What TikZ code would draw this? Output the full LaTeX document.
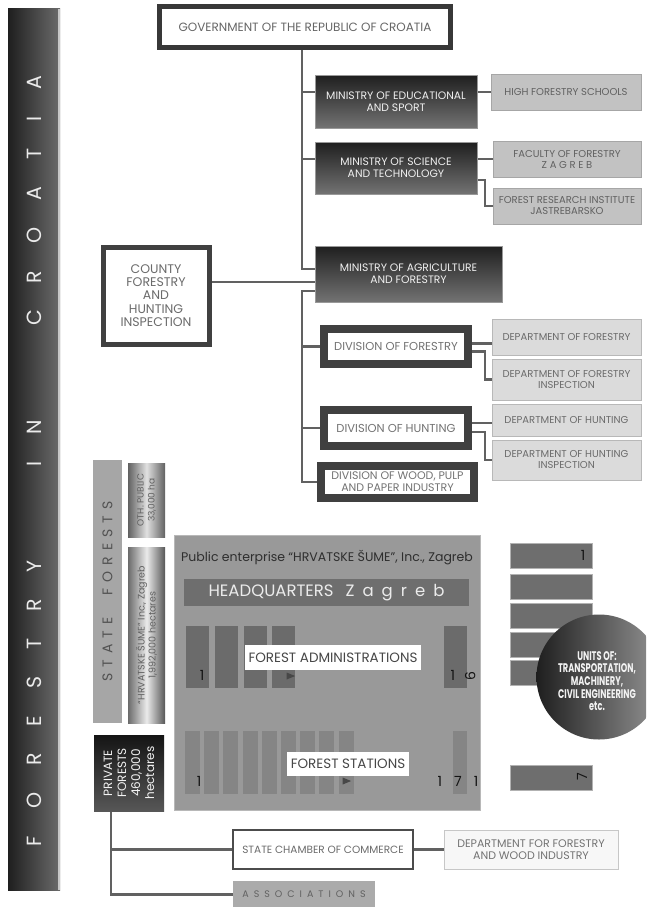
\documentclass[tikz,border=0pt]{standalone}
\usepackage{fontspec}
\usepackage{graphicx}
\setmainfont{Poppins}
\usetikzlibrary{shapes.geometric}
\pgfdeclarelayer{bg}
\pgfsetlayers{bg,main}

\begin{document}
\begin{tikzpicture}[x=1pt, y=-1pt,
  link/.style={draw=black!62, line width=2.2pt},
  banner/.style={left color=black!88, right color=black!58, minimum width=52pt, minimum height=881pt, inner sep=0pt},
  bartext/.style={rotate=90, text=black!8, inner sep=0pt, font={\fontsize{20.5}{20}\selectfont\spaceskip=27pt\relax}},
  govbox/.style={draw=black!78, line width=5pt, fill=white, text=black!60, inner sep=0pt, font=\fontsize{12}{14}\selectfont},
  minbox/.style={draw=black!40, top color=black!88, bottom color=black!55, text=black!6, align=center, inner sep=0pt, font=\fontsize{10.8}{12}\selectfont},
  instbox/.style={draw=black!35, fill=black!24, text=black!62, align=center, inner sep=0pt, font=\fontsize{10}{11}\selectfont},
  countybox/.style={draw=black!75, line width=5pt, fill=white, text=black!58, align=center, inner sep=0pt, font=\fontsize{12.5}{13.3}\selectfont},
  divbox/.style={draw=black!75, line width=8pt, fill=white, text=black!55, align=center, inner sep=0pt, font=\fontsize{11.5}{12.5}\selectfont},
  deptbox/.style={draw=black!28, fill=black!14, text=black!58, align=center, inner sep=0pt, font=\fontsize{10}{11}\selectfont},
  vbox/.style={rotate=90, align=center, inner sep=0pt},
  entbox/.style={draw=black!28, fill=black!40, inner sep=0pt},
  adbar/.style={fill=black!58, minimum width=23pt, minimum height=62pt, inner sep=0pt},
  stbar/.style={fill=black!48, minimum width=15pt, minimum height=63pt, inner sep=0pt},
  unitbar/.style={fill=black!57, draw=black!30, minimum width=82pt, minimum height=25pt, inner sep=0pt},
  tag/.style={fill=white, text=black!72, inner sep=0pt, font=\fontsize{13.5}{15}\selectfont},
  num/.style={text=black!92, inner sep=0pt, font=\fontsize{14}{14}\selectfont},
  tri/.style={isosceles triangle, fill=black!72, minimum size=7pt, inner sep=0pt},
  plainbox/.style={draw=black!70, line width=1.5pt, fill=white, text=black!58, align=center, inner sep=0pt, font=\fontsize{10.5}{12}\selectfont},
  lightbox/.style={draw=black!22, line width=1pt, fill=black!3, text=black!55, align=center, inner sep=0pt, font=\fontsize{11}{12}\selectfont},
  assocbox/.style={fill=black!33, text=black!62, inner sep=0pt, font={\fontsize{9.5}{11}\selectfont\spaceskip=5pt\relax}}
]
\clip (0,0) rectangle (646,907);

% side banner
\node[banner] (bar) at (34,449.5) {};
\draw[black!22, line width=2pt] ([xshift=-1pt]bar.north east) -- ([xshift=-1pt]bar.south east);
\node[bartext] (bartitle) at (34,461) {F O R E S T R Y\hspace{94pt}I N\hspace{94pt}C R O A T I A};

% government and ministries
\node[govbox, minimum width=291pt, minimum height=41pt] (gov) at (305,27) {GOVERNMENT OF THE REPUBLIC OF CROATIA};
\coordinate (trunk) at (302,50);

\node[minbox, minimum width=162pt, minimum height=53pt] (edu) at (396,101.5) {MINISTRY OF EDUCATIONAL\\AND SPORT};
\node[minbox, minimum width=162pt, minimum height=52pt] (sci) at (396,168) {MINISTRY OF SCIENCE\\AND TECHNOLOGY};
\node[minbox, minimum width=187pt, minimum height=56pt] (agri) at (408.5,274) {MINISTRY OF AGRICULTURE\\AND FORESTRY};

\node[instbox, minimum width=150pt, minimum height=36pt] (school) at (566,92) {HIGH FORESTRY SCHOOLS};
\node[instbox, minimum width=148pt, minimum height=36pt] (faculty) at (567,159) {FACULTY OF FORESTRY\\Z A G R E B};
\node[instbox, minimum width=148pt, minimum height=36pt] (institute) at (567,206) {FOREST RESEARCH INSTITUTE\\JASTREBARSKO};

\node[countybox, minimum width=106pt, minimum height=97pt] (county) at (156,295.5) {COUNTY\\FORESTRY\\AND\\HUNTING\\INSPECTION};

% divisions and departments
\node[divbox, minimum width=144pt, minimum height=35pt] (divfor) at (396,346.5) {DIVISION OF FORESTRY};
\node[divbox, minimum width=144pt, minimum height=36pt] (divhunt) at (396,428) {DIVISION OF HUNTING};
\node[divbox, minimum width=153pt, minimum height=32pt, font=\fontsize{11}{12}\selectfont] (divwood) at (397.5,482) {DIVISION OF WOOD, PULP\\AND PAPER INDUSTRY};

\node[deptbox, minimum width=149pt, minimum height=36pt] (depfor) at (566.5,337) {DEPARTMENT OF FORESTRY};
\node[deptbox, minimum width=149pt, minimum height=41pt] (depforins) at (566.5,379.5) {DEPARTMENT OF FORESTRY\\INSPECTION};
\node[deptbox, minimum width=149pt, minimum height=32pt] (dephunt) at (566.5,420) {DEPARTMENT OF HUNTING};
\node[deptbox, minimum width=149pt, minimum height=40pt] (dephuntins) at (566.5,460) {DEPARTMENT OF HUNTING\\INSPECTION};

% state and private forests
\node[vbox, fill=black!35, text=black!68, minimum width=263pt, minimum height=29pt, font={\fontsize{14}{14}\selectfont\spaceskip=6pt\relax}] (state) at (107.5,591.5) {S T A T E\hspace{22pt}F O R E S T S};
\node[vbox, left color=black!62, right color=black!62, middle color=black!12, text=black!62, minimum width=74pt, minimum height=37pt, font=\fontsize{9}{11}\selectfont] (other) at (146.5,500) {OTH. PUBLIC\\33,000 ha};
\node[vbox, left color=black!58, right color=black!66, middle color=black!8, text=black!62, minimum width=176pt, minimum height=37pt, font=\fontsize{9.5}{11}\selectfont] (hsume) at (146.5,635) {“HRVATSKE ŠUME” Inc., Zagreb\\1,992,000 hectares};
\node[vbox, top color=black!92, bottom color=black!66, text=black!5, minimum width=76pt, minimum height=70pt, font=\fontsize{12}{14}\selectfont] (private) at (129,773) {PRIVATE\\FORESTS\\460,000\\hectares};

% public enterprise
\node[entbox, minimum width=306pt, minimum height=275pt] (hsent) at (327,672.5) {};
\node[inner sep=0pt, text=black!82, font=\fontsize{12.5}{14}\selectfont] (enttitle) at (327,558) {Public enterprise “HRVATSKE ŠUME”, Inc., Zagreb};
\node[fill=black!57, text=black!8, minimum width=285pt, minimum height=27pt, inner sep=0pt, font={\fontsize{16.5}{18}\selectfont\spaceskip=8pt\relax}] (hq) at (326.5,592.5) {HEADQUARTERS\hspace{12pt}Z a g r e b};

\foreach \xx [count=\i] in {197,226,255,283.5}
  \node[adbar] (ad\i) at (\xx,657) {};
\node[adbar] (ad16) at (455.5,657) {};
\node[tag, minimum width=176pt, minimum height=25pt] (admin) at (333,657.5) {FOREST ADMINISTRATIONS};
\node[num] (adfirst) at (202,675) {1};
\node[tri] (adtri) at (289,676) {};
\node[num] (adlast) at (463,675) {1\hspace{10pt}\rotatebox{90}{6}};

\foreach \i in {1,...,9}
  \node[stbar] (st\i) at ({192.5+19.2*(\i-1)},762.5) {};
\node[stbar, minimum width=14pt] (st171) at (460,762.5) {};
\node[tag, minimum width=122pt, minimum height=24pt] (station) at (348,764) {FOREST STATIONS};
\node[num] (stfirst) at (199,781) {1};
\node[tri] (sttri) at (345,781) {};
\node[num] (stlast) at (458,781) {1\hspace{12pt}7\hspace{12pt}1};

% service units
\foreach \yy [count=\i] in {555.5,586.5,615.5,644.5,673}
  \node[unitbar] (unit\i) at (551,\yy) {};
\node[unitbar] (unitn) at (551,777.5) {};
\node[num] (unitfirst) at (583,555) {1};
\node[num] (unitlast) at (582,777) {\rotatebox{90}{7}};
\node[circle, left color=black!88, right color=black!42, minimum size=125pt, inner sep=0pt] (units) at (599,677) {};
\node[text=black!5, inner sep=0pt, font=\bfseries\fontsize{12.5}{12.6}\selectfont] (unitstext) at (597,683) {\scalebox{0.66}[1]{\begin{tabular}{@{}c@{}}UNITS OF:\\TRANSPORTATION,\\MACHINERY,\\CIVIL ENGINEERING\\etc.\end{tabular}}};

% chamber and associations
\node[plainbox, minimum width=180pt, minimum height=39pt] (chamber) at (323,849.5) {STATE CHAMBER OF COMMERCE};
\node[lightbox, minimum width=174pt, minimum height=39pt] (deptfw) at (531,849.5) {DEPARTMENT FOR FORESTRY\\AND WOOD INDUSTRY};
\node[assocbox, minimum width=142pt, minimum height=27pt] (assoc) at (304,894.5) {A S S O C I A T I O N S};

% connectors
\coordinate (agin) at ([yshift=-8pt]agri.west);
\coordinate (agout) at ([yshift=-17pt]agri.west);
\coordinate (pf) at ([xshift=-18pt]private.west);
\begin{pgfonlayer}{bg}
\fill[white] (0,0) rectangle (646,907);
\draw[link] (gov.south -| trunk) |- ([yshift=5pt]agri.west);
\draw[link] (trunk |- school.west) -- (edu.west |- school.west);
\draw[link] (edu.east |- school.west) -- (school.west);
\draw[link] (trunk |- faculty.west) -- (sci.west |- faculty.west);
\draw[link] (sci.east |- faculty.west) -- (faculty.west);
\draw[link] ([yshift=-12pt]sci.east) -| ([xshift=-8pt]institute.west) -- (institute.west);
\draw[link] (county.east |- agin) -- (agin);
\draw[link] (agout) -| (trunk |- divwood.west) -- (divwood.west);
\draw[link] (trunk |- divfor.west) -- (divfor.west);
\draw[link] (trunk |- divhunt.west) -- (divhunt.west);
\draw[link] ([yshift=3pt]divfor.east) -- ([yshift=3pt]divfor.east -| depfor.west);
\draw[link] ([yshift=-5pt]divfor.east) -| ([xshift=-7pt]depforins.west) -- (depforins.west);
\draw[link] ([yshift=5pt]divhunt.east) -- ([yshift=5pt]divhunt.east -| dephunt.west);
\draw[link] ([yshift=-4pt]divhunt.east) -| ([xshift=-7pt]dephuntins.west) -- (dephuntins.west);
\draw[link] (pf) |- (assoc.west);
\draw[link] (pf |- chamber.west) -- (chamber.west);
\draw[link] (chamber.east) -- (deptfw.west);
\end{pgfonlayer}
\end{tikzpicture}
\end{document}
